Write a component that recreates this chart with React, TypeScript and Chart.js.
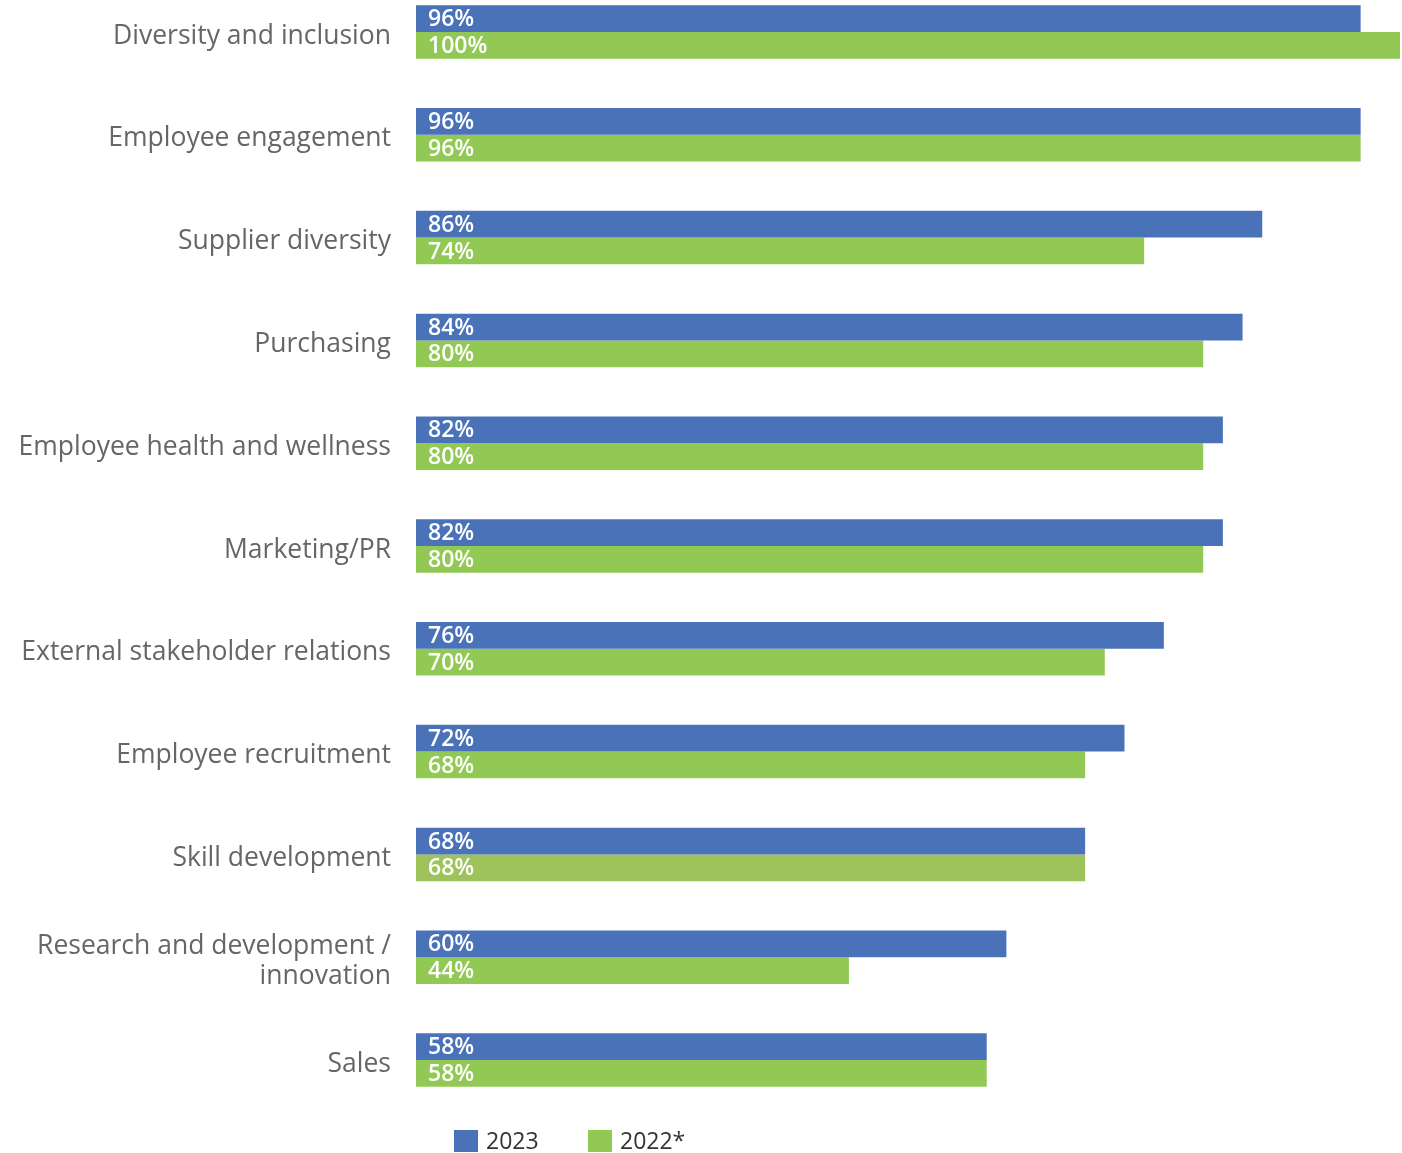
import React, { useEffect, useRef } from "react";
import { Chart, registerables } from "chart.js";

Chart.register(...registerables);

const categories: (string | string[])[] = [
  "Diversity and inclusion",
  "Employee engagement",
  "Supplier diversity",
  "Purchasing",
  "Employee health and wellness",
  "Marketing/PR",
  "External stakeholder relations",
  "Employee recruitment",
  "Skill development",
  ["Research and development /", "innovation"],
  "Sales",
];

const values2023 = [96, 96, 86, 84, 82, 82, 76, 72, 68, 60, 58];
const values2022 = [100, 96, 74, 80, 80, 80, 70, 68, 68, 44, 58];

const seriesLabels = ["2023", "2022*"];

const BLUE = "#4a72b8";
const GREEN = "#92c954";
const GREEN_ALT = "#9dc35a";

const FONT = "'Open Sans', 'DejaVu Sans', sans-serif";

const valueLabelPlugin = {
  id: "valueLabels",
  afterDatasetsDraw(chart: any) {
    const ctx = chart.ctx;
    ctx.save();
    ctx.fillStyle = "#ffffff";
    ctx.font = `600 23px ${FONT}`;
    ctx.textAlign = "left";
    ctx.textBaseline = "middle";
    chart.data.datasets.forEach((ds: any, di: number) => {
      const meta = chart.getDatasetMeta(di);
      meta.data.forEach((bar: any, i: number) => {
        const base = bar.base;
        ctx.fillText(`${ds.data[i]}%`, base + 12, bar.y + 1);
      });
    });
    ctx.restore();
  },
};

const customLegendPlugin = {
  id: "customLegend",
  afterDraw(chart: any) {
    const ctx = chart.ctx;
    ctx.save();
    ctx.font = `400 23px ${FONT}`;
    ctx.textBaseline = "middle";
    ctx.textAlign = "left";
    const starts = [454, 588];
    const y = 1141;
    chart.data.datasets.forEach((ds: any, di: number) => {
      const x = starts[di];
      ctx.fillStyle = Array.isArray(ds.backgroundColor) ? ds.backgroundColor[0] : ds.backgroundColor;
      ctx.fillRect(x, y - 11, 24, 22);
      ctx.fillStyle = "#333333";
      ctx.fillText(ds.label, x + 32, y + 1);
    });
    ctx.restore();
  },
};

export default function App() {
  const canvasRef = useRef<HTMLCanvasElement | null>(null);

  useEffect(() => {
    document.body.style.margin = "0";
    const canvas = canvasRef.current;
    if (!canvas) return;
    const greenColors = values2022.map((_, i) => (i === 8 ? GREEN_ALT : GREEN));
    const chart = new Chart(canvas, {
      type: "bar",
      data: {
        labels: categories,
        datasets: [
          {
            label: seriesLabels[0],
            data: values2023,
            backgroundColor: BLUE,
            categoryPercentage: 0.52,
            barPercentage: 1,
            clip: false,
          } as any,
          {
            label: seriesLabels[1],
            data: values2022,
            backgroundColor: greenColors,
            categoryPercentage: 0.52,
            barPercentage: 1,
            clip: false,
          } as any,
        ],
      },
      options: {
        indexAxis: "y",
        animation: false,
        responsive: false,
        maintainAspectRatio: false,
        layout: { padding: { top: 32, bottom: 93, left: 0, right: 2 } },
        plugins: {
          legend: { display: false },
          tooltip: { enabled: false },
        },
        scales: {
          x: {
            display: false,
            min: 0,
            max: 100,
          },
          y: {
            offset: false,
            border: { display: false },
            grid: { display: false, drawTicks: false },
            ticks: {
              color: "#666666",
              padding: 25,
              labelOffset: 4,
              font: { family: FONT, size: 26.5, lineHeight: 1.13 },
            },
            afterFit(scale: any) {
              scale.width = 416;
              scale.paddingTop = 0;
              scale.paddingBottom = 0;
            },
          },
        },
      },
      plugins: [valueLabelPlugin, customLegendPlugin],
    });
    return () => chart.destroy();
  }, []);

  return (
    <div style={{ width: 1402, height: 1153 }}>
      <canvas ref={canvasRef} width={1402} height={1153} style={{ display: "block" }} />
    </div>
  );
}
